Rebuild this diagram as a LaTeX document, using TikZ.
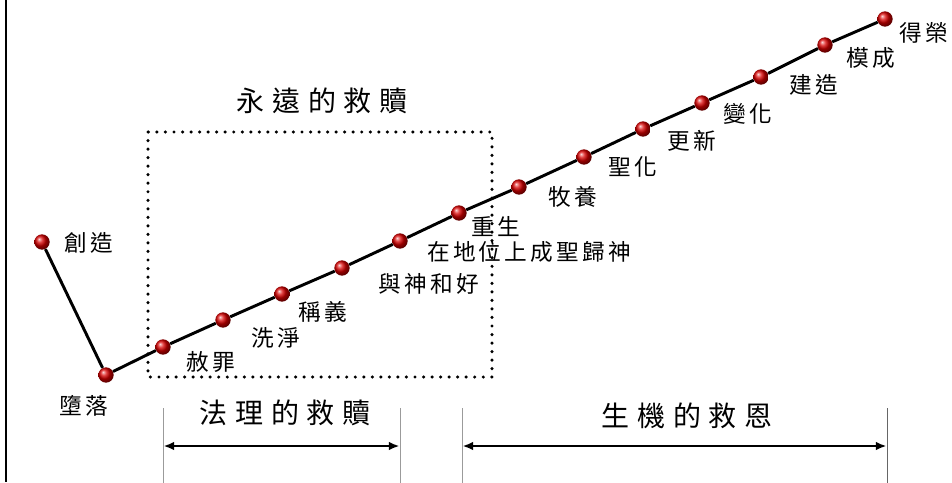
\documentclass[tikz,border=0pt]{standalone}
\usepackage{fontspec}
\setmainfont{Noto Sans CJK TC}
\newfontfamily\lblfont[LetterSpace=14]{Noto Sans CJK TC}
\newfontfamily\hdfont[LetterSpace=27]{Noto Sans CJK TC}
\usetikzlibrary{arrows.meta}

\def\stage#1#2#3#4{\node[ball] (#1) at (#2) {}; \node[lbl] (#1-l) at (#3) {#4};}
\def\tick#1#2{\node[tick] (#1) at (#2,446) {};}

\begin{document}
\begin{tikzpicture}[x=0.75pt, y=-0.75pt,
    ball/.style={circle, minimum size=11.5pt, inner sep=0pt, shade, ball color=red!85!black},
    lbl/.style={font=\lblfont\fontsize{17}{19}\selectfont, inner sep=0pt},
    hd/.style={font=\hdfont\fontsize{21}{23}\selectfont, inner sep=0pt},
    tick/.style={draw=black!60, line width=0.7pt, minimum width=0pt, minimum height=57pt, inner sep=0pt},
    span/.style={line width=1.8pt, {Latex[length=8pt,width=6.5pt]}-{Latex[length=8pt,width=6.5pt]}},
    track/.style={line width=2.2pt},
    dotbox/.style={line width=2.6pt, line cap=round, dash pattern=on 0pt off 6.4pt}]
    \useasboundingbox (0,0) rectangle (952,482);
    \draw[line width=2.2pt] (6,0) -- (6,482);
    % the eternal redemption
    \draw[dotbox] (148,132) rectangle (492,377);
    \node[hd] (eternal) at (322,101) {永遠的救贖};
    % stages
    \stage{create}{42,242}{89,243}{創造}
    \stage{fall}{106,375}{84,406}{墮落}
    \stage{forgive}{163,347}{211,362}{赦罪}
    \stage{wash}{223,320}{276,338}{洗淨}
    \stage{justify}{282,294}{323,312}{稱義}
    \stage{reconcile}{342,268}{429,284}{與神和好}
    \stage{sanctify}{400,241}{529,252}{在地位上成聖歸神}
    \stage{regen}{459,213}{496,227}{重生}
    \stage{feed}{519,187}{573,197}{牧養}
    \stage{holy}{584,157}{633,167}{聖化}
    \stage{renew}{643,129}{692,141}{更新}
    \stage{transform}{702,103}{748,114}{變化}
    \stage{build}{761,77}{814,85}{建造}
    \stage{conform}{825,45}{871,58}{模成}
    \stage{glory}{885,19}{924,33}{得榮}
    \foreach \a/\b in {create/fall, fall/forgive, forgive/wash, wash/justify,
        justify/reconcile, reconcile/sanctify, sanctify/regen, regen/feed,
        feed/holy, holy/renew, renew/transform, transform/build,
        build/conform, conform/glory}
        \draw[track] (\a) -- (\b);
    % spans below
    \tick{t1}{163}
    \tick{t2}{400}
    \tick{t3}{462}
    \tick{t4}{887}
    \draw[span] (t1) -- (t2);
    \draw[span] (t3) -- (t4);
    \node[hd] (legal) at (285,413) {法理的救贖};
    \node[hd] (organic) at (687,416) {生機的救恩};
\end{tikzpicture}
\end{document}
